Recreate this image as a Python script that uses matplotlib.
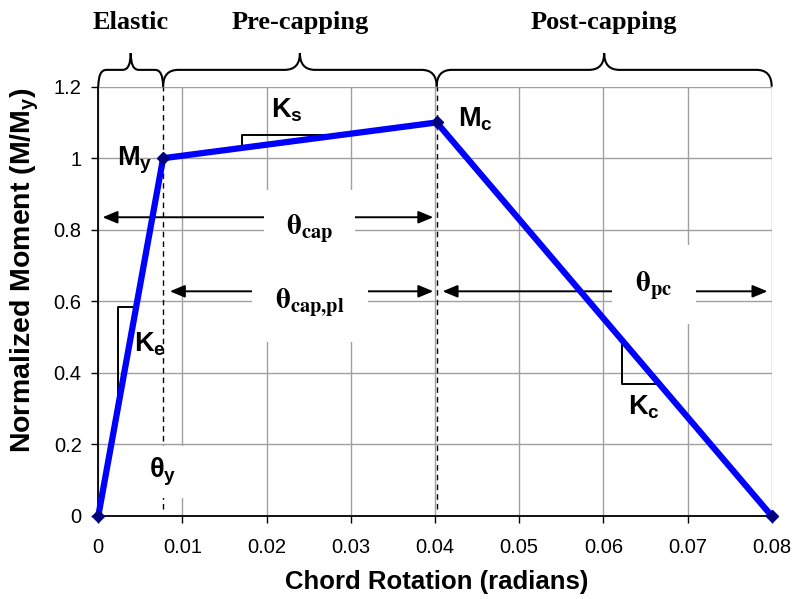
import numpy as np
import matplotlib
matplotlib.use("Agg")
import matplotlib.pyplot as plt
from matplotlib import font_manager
from matplotlib.path import Path
from matplotlib.patches import PathPatch

# backbone curve: origin, yield, capping point, zero strength
rotation = [0.0, 0.0077, 0.0402, 0.08]
moment = [0.0, 1.0, 1.1, 0.0]

x_ticks = [0.0, 0.01, 0.02, 0.03, 0.04, 0.05, 0.06, 0.07, 0.08]
x_tick_labels = ["0", "0.01", "0.02", "0.03", "0.04", "0.05", "0.06", "0.07", "0.08"]
y_ticks = [0.0, 0.2, 0.4, 0.6, 0.8, 1.0, 1.2]
y_tick_labels = ["0", "0.2", "0.4", "0.6", "0.8", "1", "1.2"]

region_names = ["Elastic", "Pre-capping", "Post-capping"]

theta_y, theta_cap, theta_end = rotation[1], rotation[2], rotation[3]

installed = {f.name for f in font_manager.fontManager.ttflist}
tick_font = "Liberation Sans Narrow" if "Liberation Sans Narrow" in installed else "Liberation Sans"
tick_size = 17 if tick_font == "Liberation Sans Narrow" else 14.5

plt.rcParams["font.family"] = ["Liberation Sans", "DejaVu Sans"]
plt.rcParams["mathtext.fontset"] = "custom"
plt.rcParams["mathtext.rm"] = "Liberation Sans"
plt.rcParams["mathtext.bf"] = "Liberation Sans:bold"
plt.rcParams["mathtext.it"] = "Liberation Sans:italic"
plt.rcParams["mathtext.sf"] = "Liberation Sans"

fig = plt.figure(figsize=(7.94, 5.99), dpi=100)
ax = fig.add_axes([0.1238, 0.1386, 0.8481, 0.7167])
ax.set_xlim(0, 0.08)
ax.set_ylim(0, 1.2)

ax.set_xticks(x_ticks)
ax.set_xticklabels(x_tick_labels, fontfamily=tick_font, fontsize=tick_size)
ax.set_yticks(y_ticks)
ax.set_yticklabels(y_tick_labels, fontfamily=tick_font, fontsize=tick_size)
ax.tick_params(axis="x", direction="out", length=5, width=1, pad=11)
ax.tick_params(axis="y", direction="out", length=5, width=1, pad=7)
ax.grid(True, color="#a0a0a0", lw=1)
ax.set_axisbelow(True)
for side in ("top", "right"):
    ax.spines[side].set_visible(False)
for side in ("left", "bottom"):
    ax.spines[side].set_linewidth(1.3)
    ax.spines[side].set_zorder(2.5)

# backbone
ax.plot(rotation, moment, color="#0000ff", lw=4.5, marker="D", ms=6,
        mfc="#000080", mec="#000080", zorder=6, clip_on=False)

# yield and capping rotations
for xv in (theta_y, theta_cap):
    ax.plot([xv, xv], [0.02, 1.2], color="black", lw=1, ls=(0, (4, 3)), zorder=3)


def slope_triangle(x0, y0, seg):
    (xa, xb), (ya, yb) = rotation[seg:seg + 2], moment[seg:seg + 2]
    y_line = ya + (yb - ya) * (x0 - xa) / (xb - xa)
    x_line = xa + (xb - xa) * (y0 - ya) / (yb - ya)
    ax.plot([x0, x0, x_line], [y_line, y0, y0], color="black", lw=1.4, zorder=4)


slope_triangle(0.0023, 0.585, 0)
slope_triangle(0.0171, 1.065, 1)
slope_triangle(0.0622, 0.369, 2)


def span_arrow(x0, x1, y):
    ax.annotate("", xy=(x1, y), xytext=(x0, y),
                arrowprops=dict(arrowstyle="<|-|>,head_length=0.6,head_width=0.25",
                                color="black", lw=1.4, shrinkA=0, shrinkB=0,
                                mutation_scale=15),
                zorder=4)


span_arrow(0.0005, 0.0398, 0.835)
span_arrow(0.0085, 0.0398, 0.628)
span_arrow(0.0409, 0.0795, 0.628)

box = dict(facecolor="white", edgecolor="none", boxstyle="square,pad=0.75")
ax.text(0.0251, 0.805, r"$\mathbf{\theta_{cap}}$", fontsize=21, math_fontfamily="stix",
        ha="center", va="center", bbox=box, zorder=5)
ax.text(0.0251, 0.597, r"$\mathbf{\theta_{cap{,}pl}}$", fontsize=21, math_fontfamily="stix",
        ha="center", va="center", bbox=dict(box, boxstyle="square,pad=0.8"), zorder=5)
ax.text(0.0660, 0.647, r"$\mathbf{\theta_{pc}}$", fontsize=21, math_fontfamily="stix",
        ha="center", va="center", bbox=dict(box, boxstyle="square,pad=0.8"), zorder=5)
ax.text(0.0076, 0.123, r"$\mathbf{\theta_y}$", fontsize=19.5,
        ha="center", va="center", bbox=dict(box, boxstyle="square,pad=0.35"), zorder=5)

# stiffness and strength labels
ax.text(0.0064, 0.995, r"$\mathbf{M_y}$", fontsize=19.5, ha="right", va="center", zorder=7)
ax.text(0.0427, 1.11, r"$\mathbf{M_c}$", fontsize=19.5, ha="left", va="center", zorder=7)
ax.text(0.0042, 0.48, r"$\mathbf{K_e}$", fontsize=19.5, ha="left", va="center", zorder=7)
ax.text(0.0224, 1.135, r"$\mathbf{K_s}$", fontsize=19.5, ha="center", va="center", zorder=7)
ax.text(0.0648, 0.305, r"$\mathbf{K_c}$", fontsize=19.5, ha="center", va="center", zorder=7)


def brace(x0, x1, y0=1.2, h=0.047):
    xm = (x0 + x1) / 2
    r = min(0.0018, (x1 - x0) / 8)
    yb, yt = y0 + h, y0 + 2 * h
    verts = [(x0, y0), (x0, yb), (x0 + r, yb), (xm - r, yb), (xm, yb), (xm, yt),
             (xm, yb), (xm + r, yb), (x1 - r, yb), (x1, yb), (x1, y0)]
    codes = [Path.MOVETO, Path.CURVE3, Path.CURVE3, Path.LINETO, Path.CURVE3, Path.CURVE3,
             Path.CURVE3, Path.CURVE3, Path.LINETO, Path.CURVE3, Path.CURVE3]
    ax.add_patch(PathPatch(Path(verts, codes), fill=False, color="black", lw=1.5,
                           clip_on=False, zorder=4))
    return xm


bounds = [(0.0, theta_y), (theta_y, theta_cap), (theta_cap, theta_end)]
for name, (x0, x1) in zip(region_names, bounds):
    xm = brace(x0, x1)
    ax.text(xm, 1.378, name, fontsize=19, fontweight="bold", fontfamily="Liberation Serif",
            ha="center", va="center", clip_on=False)

fig.text(437 / 794, 1 - 582 / 599, "Chord Rotation (radians)", fontsize=18.5,
         fontweight="bold", ha="center", va="center")
fig.text(25 / 794, 1 - 270 / 599, r"$\mathbf{Normalized\ Moment\ (M/M_y)}$", fontsize=20.5,
         rotation=90, ha="center", va="center")

fig.savefig("out.png", dpi=100, facecolor="white")
